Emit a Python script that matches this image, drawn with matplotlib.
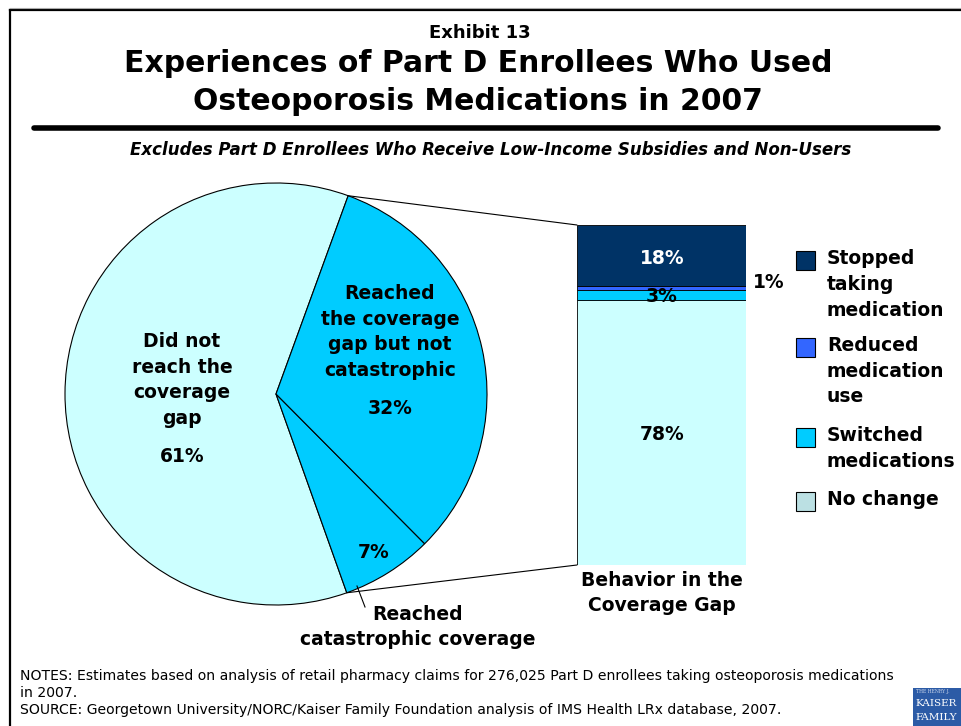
#!/usr/bin/env python3
"""Exhibit 13: pie of coverage-gap status with a stacked bar breaking out the gap group."""

import math

import matplotlib
matplotlib.use("Agg")
import matplotlib.pyplot as plt
from matplotlib.patches import ConnectionPatch, Rectangle

W, H = 961, 726
DPI = 100

# data
pie_labels = ["Did not\nreach the\ncoverage\ngap", "Reached\ncatastrophic coverage",
              "Reached\nthe coverage\ngap but not\ncatastrophic"]
pie_values = [61, 7, 32]
gap_labels = ["No change", "Switched\nmedications", "Reduced\nmedication\nuse",
              "Stopped\ntaking\nmedication"]
gap_values = [78, 3, 1, 18]

PIE_COLORS = ["#CCFFFF", "#00CCFF", "#00CCFF"]
BAR_COLORS = ["#CCFFFF", "#00CCFF", "#3366FF", "#003366"]
LEGEND_COLORS = ["#BBE0E3", "#00CCFF", "#3366FF", "#003366"]
START_ANGLE = 70

plt.rcParams["font.family"] = "DejaVu Sans"


def frac(x0, y0, x1, y1):
    """pixel box (top-left origin) -> figure fraction rect"""
    return [x0 / W, 1 - y1 / H, (x1 - x0) / W, (y1 - y0) / H]


fig = plt.figure(figsize=(W / DPI, H / DPI), dpi=DPI, facecolor="white")

# pie
ax_pie = fig.add_axes(frac(65, 183, 487, 605))
ax_pie.pie(pie_values, colors=PIE_COLORS, startangle=START_ANGLE, counterclock=True,
           wedgeprops=dict(edgecolor="black", linewidth=0.8))
ax_pie.set_aspect("auto")
ax_pie.set_xlim(-1, 1)
ax_pie.set_ylim(-1, 1)
ax_pie.axis("off")

# stacked bar
ax_bar = fig.add_axes(frac(577, 225, 746, 565))
bottom = 0
for val, col in zip(gap_values, BAR_COLORS):
    ax_bar.bar(0, val, bottom=bottom, width=1, align="edge", color=col,
               edgecolor="black", linewidth=0.6)
    bottom += val
ax_bar.set_xlim(0, 1)
ax_bar.set_ylim(0, sum(gap_values))
ax_bar.axis("off")

# connector lines from the gap slices to the bar
a_top = math.radians(START_ANGLE)
a_bot = math.radians(START_ANGLE + pie_values[0] / sum(pie_values) * 360)
for ang, yb in [(a_top, sum(gap_values)), (a_bot, 0)]:
    con = ConnectionPatch(xyA=(math.cos(ang), math.sin(ang)), coordsA=ax_pie.transData,
                          xyB=(0, yb), coordsB=ax_bar.transData,
                          color="black", linewidth=0.8)
    fig.add_artist(con)

# overlay in pixel coords for text and decorations
ov = fig.add_axes([0, 0, 1, 1])
ov.set_xlim(0, W)
ov.set_ylim(H, 0)
ov.axis("off")
ov.patch.set_visible(False)

# slide frame
ov.plot([10, W], [10, 10], color="black", lw=1.6)
ov.plot([10, 10], [10, H], color="black", lw=1.6)
ov.plot([10, W], [7.5, 7.5], color="#AAAAAA", lw=0.8)

# header
ov.text(480, 33, "Exhibit 13", ha="center", va="center", fontsize=13, fontweight="bold")
ov.text(478, 64, "Experiences of Part D Enrollees Who Used", ha="center", va="center",
        fontsize=21.5, fontweight="bold")
ov.text(478, 101, "Osteoporosis Medications in 2007", ha="center", va="center",
        fontsize=21.5, fontweight="bold")
ov.plot([34, 938], [128, 128], color="black", lw=4, solid_capstyle="round")
ov.text(491, 150, "Excludes Part D Enrollees Who Receive Low-Income Subsidies and Non-Users",
        ha="center", va="center", fontsize=12, fontweight="bold", style="italic")

bold = dict(ha="center", va="center", fontsize=13.5, fontweight="bold", linespacing=1.45)

# pie labels
ov.text(182, 380, pie_labels[0], **bold)
ov.text(182, 457, f"{pie_values[0]}%", **bold)
ov.text(390, 332, pie_labels[2], **bold)
ov.text(390, 409, f"{pie_values[2]}%", **bold)
ov.text(374, 553, f"{pie_values[1]}%", **bold)
ov.text(418, 627, pie_labels[1], **bold)
ov.plot([357, 365], [586, 607], color="black", lw=0.8)

# bar labels
ov.text(662, 258, f"{gap_values[3]}%", color="white", **bold)
ov.text(662, 297, f"{gap_values[1]}%", **bold)
ov.text(662, 434, f"{gap_values[0]}%", **bold)
ov.text(769, 283, f"{gap_values[2]}%", **bold)
ov.text(662, 593, "Behavior in the\nCoverage Gap", **bold)

# legend (top to bottom: stopped, reduced, switched, no change)
leg_y = [251, 338, 428, 492]
for i, y in zip([3, 2, 1, 0], leg_y):
    ov.add_patch(Rectangle((796, y), 19, 19, facecolor=LEGEND_COLORS[i],
                           edgecolor="black", linewidth=0.8))
    ov.text(827, y - 2, gap_labels[i], ha="left", va="top", fontsize=13.5,
            fontweight="bold", linespacing=1.45)

# notes
notes = ("NOTES: Estimates based on analysis of retail pharmacy claims for 276,025 Part D "
         "enrollees taking osteoporosis medications\nin 2007.\n"
         "SOURCE: Georgetown University/NORC/Kaiser Family Foundation analysis of IMS Health "
         "LRx database, 2007.")
ov.text(20, 669, notes, ha="left", va="top", fontsize=10.1, linespacing=1.28)

# logo stub
ov.add_patch(Rectangle((913, 688), 60, 40, facecolor="#2C5BA6", edgecolor="none"))
ov.text(916, 692, "THE HENRY J.", color="#C8D4EA", fontsize=3.3, family="DejaVu Serif",
        ha="left", va="center")
ov.text(915, 704, "KAISER", color="white", fontsize=7.5, family="DejaVu Serif",
        ha="left", va="center")
ov.text(915, 717, "FAMILY", color="white", fontsize=7.5, family="DejaVu Serif",
        ha="left", va="center")

fig.savefig("out.png", dpi=DPI, facecolor="white")
